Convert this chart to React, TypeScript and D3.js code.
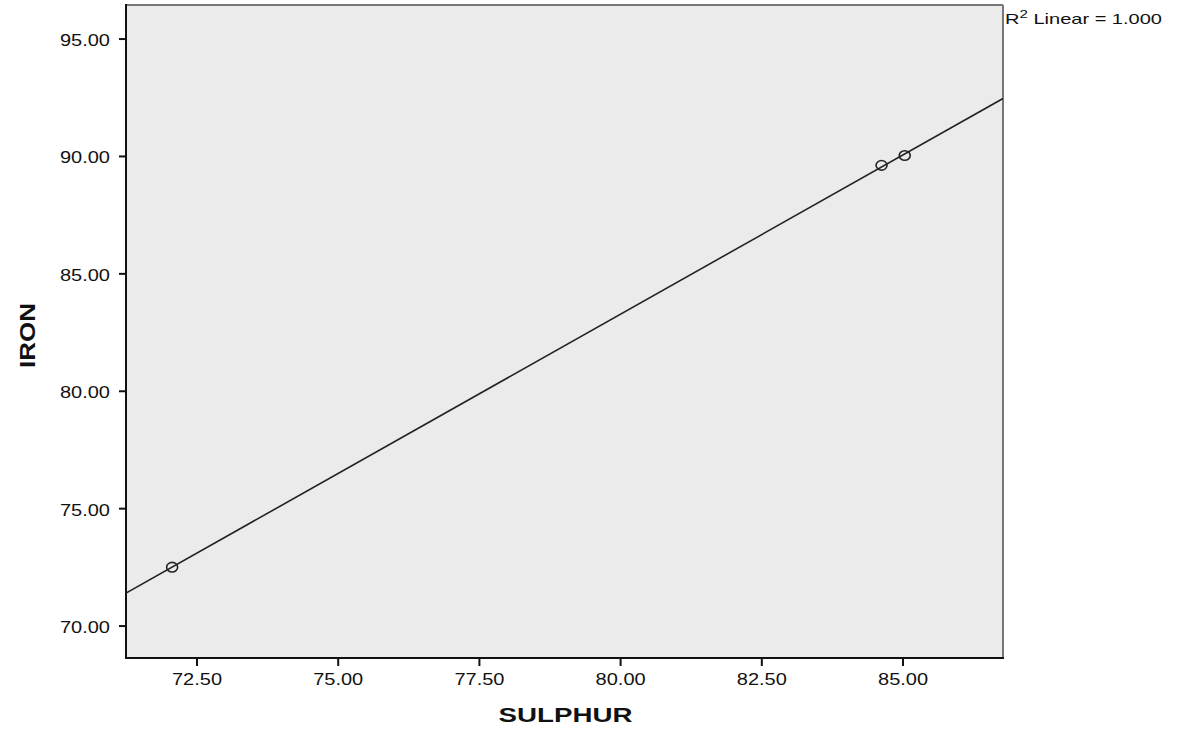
import React from "react";
import * as d3 from "d3";

const sulphur = [72.06, 84.62, 85.03];
const iron = [72.51, 89.62, 90.04];
const xTicks = [72.5, 75, 77.5, 80, 82.5, 85];
const yTicks = [70, 75, 80, 85, 90, 95];
const xTitle = "SULPHUR";
const yTitle = "IRON";
const fitLabel = "Linear = 1.000";

const font = "'Liberation Sans', Arial, sans-serif";

function SText(props: { x: number; y: number; sx: number; size: number; anchor?: string; bold?: boolean; children: React.ReactNode }) {
  const { x, y, sx, size, anchor, bold, children } = props;
  return (
    <text transform={`translate(${x},${y}) scale(${sx},1)`} textAnchor={anchor || "start"} fontFamily={font}
      fontSize={size} fontWeight={bold ? "bold" : "normal"} fill="#111">{children}</text>
  );
}

export default function App() {
  const W = 1178, H = 732;
  const L = 126, R = 1003, T = 5, B = 658;
  const x = d3.scaleLinear().domain([71.243, 86.77]).range([L, R]);
  const y = d3.scaleLinear().domain([68.64, 96.45]).range([B, T]);

  const mx = d3.mean(sulphur)!, my = d3.mean(iron)!;
  let sxy = 0, sxx = 0;
  sulphur.forEach((v, i) => { sxy += (v - mx) * (iron[i] - my); sxx += (v - mx) ** 2; });
  const slope = sxy / sxx;
  const icpt = my - slope * mx;
  const [x0, x1] = x.domain();
  const line = d3.line<number>().x(d => x(d)).y(d => y(icpt + slope * d));

  return (
    <svg width={W} height={H} style={{ position: "absolute", left: 0, top: 0 }}>
      <rect x={0} y={0} width={W} height={H} fill="#fff" />
      <rect x={L} y={T} width={R - L} height={B - T} fill="#ebebeb" />
      <line x1={L} y1={T} x2={R} y2={T} stroke="#777" strokeWidth={2} />
      <line x1={R} y1={T} x2={R} y2={B} stroke="#777" strokeWidth={2} />
      <line x1={L} y1={T - 1} x2={L} y2={B} stroke="#111" strokeWidth={2} />
      <line x1={L - 1} y1={B} x2={R + 1} y2={B} stroke="#111" strokeWidth={2} />
      <clipPath id="clip"><rect x={L} y={T} width={R - L} height={B - T} /></clipPath>
      <path d={line([x0, x1]) || ""} stroke="#222" strokeWidth={1.6} fill="none" clipPath="url(#clip)" />
      {sulphur.map((v, i) => (
        <ellipse key={i} cx={x(v)} cy={y(iron[i])} rx={5.5} ry={4.8} fill="none" stroke="#222" strokeWidth={1.6} />
      ))}
      {xTicks.map(t => (
        <g key={t}>
          <line x1={x(t)} x2={x(t)} y1={B} y2={B + 8} stroke="#111" strokeWidth={2} />
          <SText x={x(t)} y={685} sx={1.25} size={16} anchor="middle">{t.toFixed(2)}</SText>
        </g>
      ))}
      {yTicks.map(t => (
        <g key={t}>
          <line x1={L - 7} x2={L} y1={y(t)} y2={y(t)} stroke="#111" strokeWidth={2} />
          <SText x={110} y={y(t) + 7} sx={1.25} size={16} anchor="end">{t.toFixed(2)}</SText>
        </g>
      ))}
      <SText x={565.5} y={722} sx={1.32} size={21} anchor="middle" bold>{xTitle}</SText>
      <text transform={`translate(35,335.5) rotate(-90) scale(1.18,1)`} textAnchor="middle" fontFamily={font}
        fontSize={22} fontWeight="bold" fill="#111">{yTitle}</text>
      <text transform={`translate(1005,23.5) scale(1.38,1)`} fontFamily={font} fontSize={14.5} fill="#111">
        R<tspan dy={-5.5} fontSize={11}>2</tspan><tspan dy={5.5}> {fitLabel}</tspan>
      </text>
    </svg>
  );
}
